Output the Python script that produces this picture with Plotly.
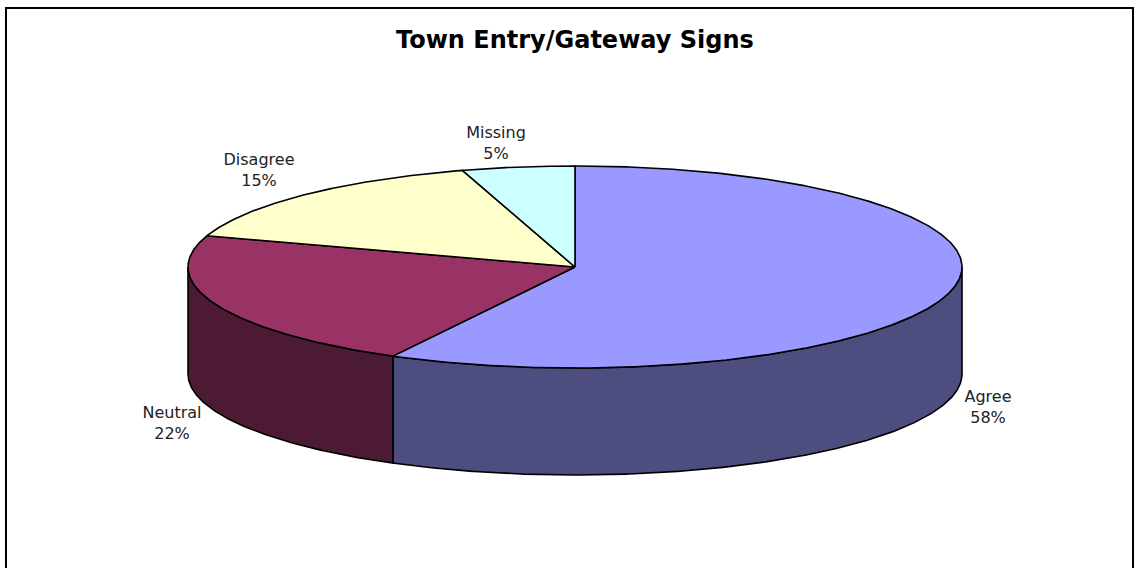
import numpy as np
import plotly.graph_objects as go

categories = ["Agree", "Neutral", "Disagree", "Missing"]
values = [57.8, 22.2, 15.3, 4.7]
top_colors = ["#9999FF", "#993366", "#FFFFCC", "#CCFFFF"]
side_colors = ["#4D4D80", "#4D1A33"]
title_text = "Town Entry/Gateway Signs"
label_positions = [(988, 408.5), (172, 424.5), (259, 171.5), (496, 144.5)]

W, H = 1138, 568
cx, cy, rx, ry, depth = 575, 267, 387, 101, 107
LINE = dict(color="black", width=1.6)

def arc(a0, a1, dy=0):
    t = np.radians(np.linspace(a0, a1, max(int(abs(a1 - a0) * 3), 2)))
    return cx + rx * np.sin(t), cy - ry * np.cos(t) + dy

shares = np.array(values) / sum(values) * 360
edges = np.concatenate([[0], np.cumsum(shares)])

fig = go.Figure()

# side walls: only the front half of the disc is visible (90 to 270 degrees)
for i, color in enumerate(side_colors):
    a0, a1 = max(edges[i], 90), min(edges[i + 1], 270)
    x0, y0 = arc(a0, a1)
    x1, y1 = arc(a1, a0, depth)
    fig.add_trace(go.Scatter(
        x=np.concatenate([x0, x1, x0[:1]]), y=np.concatenate([y0, y1, y0[:1]]),
        mode="lines", fill="toself", fillcolor=color, line=LINE,
        hoverinfo="skip", showlegend=False))

# top slices
for i, color in enumerate(top_colors):
    x0, y0 = arc(edges[i], edges[i + 1])
    fig.add_trace(go.Scatter(
        x=np.concatenate([[cx], x0, [cx]]), y=np.concatenate([[cy], y0, [cy]]),
        mode="lines", fill="toself", fillcolor=color, line=LINE,
        name=categories[i], hoverinfo="skip", showlegend=False))

pct = [f"{round(v / sum(values) * 100)}%" for v in values]
fig.add_trace(go.Scatter(
    x=[p[0] for p in label_positions], y=[p[1] for p in label_positions],
    mode="text", text=[f"{c}<br>{p}" for c, p in zip(categories, pct)],
    textposition="middle center",
    textfont=dict(family="DejaVu Sans", size=16, color="#222222"),
    hoverinfo="skip", showlegend=False))

fig.add_annotation(x=575, y=40, text=f"<b>{title_text}</b>", showarrow=False,
                   font=dict(family="DejaVu Sans", size=24, color="black"))

fig.add_shape(type="rect", x0=6, y0=8, x1=1133, y1=H + 10,
              line=dict(color="black", width=2), layer="below")

fig.update_layout(
    width=W, height=H, margin=dict(l=0, r=0, t=0, b=0),
    paper_bgcolor="white", plot_bgcolor="white",
    xaxis=dict(range=[0, W], visible=False, fixedrange=True),
    yaxis=dict(range=[H, 0], visible=False, fixedrange=True),
)
fig.write_html("out.html", config={"displayModeBar": False},
               post_script="document.body.style.margin='0';document.body.style.overflow='hidden';")
